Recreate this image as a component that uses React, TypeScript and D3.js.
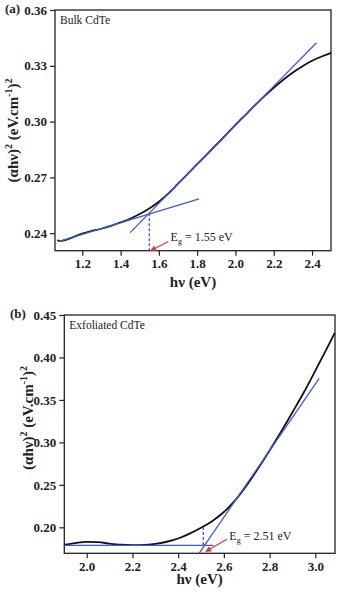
import React, { useEffect, useRef } from 'react';
import * as d3 from 'd3';

// panel (a) - bulk CdTe
const bulkX = [1.07, 1.08, 1.1, 1.15, 1.2, 1.25, 1.3, 1.35, 1.4, 1.45, 1.5, 1.55, 1.6, 1.65, 1.7, 1.75, 1.8, 1.85, 1.9, 1.95, 2.0, 2.05, 2.1, 2.15, 2.2, 2.25, 2.3, 2.35, 2.4, 2.45, 2.5];
const bulkY = [0.2363, 0.2358, 0.236, 0.2378, 0.2398, 0.2413, 0.2424, 0.244, 0.2458, 0.2478, 0.2503, 0.2533, 0.2569, 0.2614, 0.2666, 0.2718, 0.2771, 0.2823, 0.2876, 0.2929, 0.2982, 0.3034, 0.3086, 0.3136, 0.3182, 0.3225, 0.3264, 0.3298, 0.3327, 0.335, 0.337];
const bulkFitX = [[1.45, 2.423], [1.075, 1.81]];
const bulkFitY = [[0.2403, 0.3424], [0.2355, 0.2585]];
const bulkXTicks = [1.2, 1.4, 1.6, 1.8, 2.0, 2.2, 2.4];
const bulkYTicks = [0.24, 0.27, 0.3, 0.33, 0.36];

// panel (b) - exfoliated CdTe
const exfX = [1.9, 1.95, 2.0, 2.05, 2.1, 2.15, 2.2, 2.25, 2.3, 2.35, 2.4, 2.45, 2.5, 2.55, 2.6, 2.65, 2.7, 2.75, 2.8, 2.85, 2.9, 2.95, 3.0, 3.05, 3.085];
const exfY = [0.1795, 0.1815, 0.1829, 0.1825, 0.1808, 0.1795, 0.179, 0.1792, 0.1805, 0.183, 0.1868, 0.1925, 0.1995, 0.2075, 0.218, 0.232, 0.2495, 0.2695, 0.2905, 0.3125, 0.3355, 0.359, 0.3845, 0.4105, 0.429];
const exfFitX = [[2.4915, 3.017], [1.902, 2.555]];
const exfFitY = [[0.1694, 0.3755], [0.1788, 0.1788]];
const exfXTicks = [2.0, 2.2, 2.4, 2.6, 2.8, 3.0];
const exfYTicks = [0.2, 0.25, 0.3, 0.35, 0.4, 0.45];

const panels = [
  {
    tag: '(a)', title: 'Bulk CdTe', eg: '1.55',
    x: bulkX, y: bulkY, fitX: bulkFitX, fitY: bulkFitY, xTicks: bulkXTicks, yTicks: bulkYTicks,
    xDomain: [1.0575, 2.499], yDomain: [0.2306, 0.36],
    dash: [1.55, 0.2508, 0.2306], arrow: [1.649, 0.2355, 1.557, 0.2306], label: [1.661, 0.2356],
    box: { left: 55, right: 331, top: 10, bottom: 250.7 },
    yLabelX: 18, yLabelY: 130.4, xLabelDy: 36, tagX: 5,
  },
  {
    tag: '(b)', title: 'Exfoliated CdTe', eg: '2.51',
    x: exfX, y: exfY, fitX: exfFitX, fitY: exfFitY, xTicks: exfXTicks, yTicks: exfYTicks,
    xDomain: [1.902, 3.086], yDomain: [0.1694, 0.45],
    dash: [2.51, 0.2005, 0.1788], arrow: [2.613, 0.1859, 2.521, 0.1715], label: [2.624, 0.185],
    box: { left: 64.3, right: 335, top: 315, bottom: 553.3 },
    yLabelX: 33, yLabelY: 418, xLabelDy: 31, tagX: 10,
  },
];

const BLUE = '#3b5be0';
const FONT = '"Liberation Serif", "Times New Roman", serif';

function App() {
  const ref = useRef(null);

  useEffect(() => {
    const svg = d3.select(ref.current);
    svg.selectAll('*').remove();

    svg.append('defs').append('marker')
      .attr('id', 'arr')
      .attr('viewBox', '0 0 10 10')
      .attr('refX', 9).attr('refY', 5)
      .attr('markerWidth', 5).attr('markerHeight', 5)
      .attr('orient', 'auto')
      .append('path').attr('d', 'M0,0L10,5L0,10z').attr('fill', '#e0304a');

    panels.forEach((p) => {
      const b = p.box;
      const x = d3.scaleLinear().domain(p.xDomain).range([b.left, b.right]);
      const y = d3.scaleLinear().domain(p.yDomain).range([b.bottom, b.top]);
      const g = svg.append('g').style('font-family', FONT);

      // frame
      g.append('rect')
        .attr('x', b.left).attr('y', b.top)
        .attr('width', b.right - b.left).attr('height', b.bottom - b.top)
        .attr('fill', 'none').attr('stroke', '#222').attr('stroke-width', 1.3);

      // axes
      const xa = g.append('g').attr('transform', `translate(0,${b.bottom})`)
        .call(d3.axisBottom(x).tickValues(p.xTicks).tickFormat(d3.format('.1f')).tickSize(5).tickPadding(3));
      const ya = g.append('g').attr('transform', `translate(${b.left},0)`)
        .call(d3.axisLeft(y).tickValues(p.yTicks).tickFormat(d3.format('.2f')).tickSize(5).tickPadding(3));
      [xa, ya].forEach((a) => {
        a.select('.domain').remove();
        a.selectAll('line').attr('stroke', '#222').attr('stroke-width', 1.2);
        a.selectAll('text').attr('fill', '#222').style('font-family', FONT)
          .style('font-size', '13px').style('font-weight', 'bold');
      });

      // data curve
      const pts = p.x.map((v, i) => [v, p.y[i]]);
      const line = d3.line().x((d) => x(d[0])).y((d) => y(d[1])).curve(d3.curveMonotoneX);
      g.append('path').datum(pts).attr('d', line)
        .attr('fill', 'none').attr('stroke', '#111').attr('stroke-width', 1.8);

      // linear fits
      p.fitX.forEach((fx, i) => {
        g.append('line')
          .attr('x1', x(fx[0])).attr('y1', y(p.fitY[i][0]))
          .attr('x2', x(fx[1])).attr('y2', y(p.fitY[i][1]))
          .attr('stroke', BLUE).attr('stroke-width', 1.3);
      });

      // band gap marker
      g.append('line')
        .attr('x1', x(p.dash[0])).attr('x2', x(p.dash[0]))
        .attr('y1', y(p.dash[1])).attr('y2', y(p.dash[2]))
        .attr('stroke', BLUE).attr('stroke-width', 1.3).attr('stroke-dasharray', '3,2');

      g.append('line')
        .attr('x1', x(p.arrow[0])).attr('y1', y(p.arrow[1]))
        .attr('x2', x(p.arrow[2])).attr('y2', y(p.arrow[3]))
        .attr('stroke', '#e0304a').attr('stroke-width', 1.2).attr('marker-end', 'url(#arr)');

      const t = g.append('text').attr('x', x(p.label[0])).attr('y', y(p.label[1]))
        .style('font-size', '12px').attr('fill', '#222');
      t.append('tspan').text('E');
      t.append('tspan').attr('dy', 3).style('font-size', '8px').text('g');
      t.append('tspan').attr('dy', -3).text(` = ${p.eg} eV`);

      // titles
      g.append('text').attr('x', b.left + 5).attr('y', b.top + 14)
        .style('font-size', '11.5px').attr('fill', '#222').text(p.title);
      g.append('text').attr('x', p.tagX).attr('y', b.top + 3)
        .style('font-size', '13px').style('font-weight', 'bold').attr('fill', '#222')
        .text(p.tag);

      // axis labels
      g.append('text')
        .attr('x', (b.left + b.right) / 2).attr('y', b.bottom + p.xLabelDy)
        .attr('text-anchor', 'middle').style('font-size', '15px').style('font-weight', 'bold')
        .attr('fill', '#222').text('hν (eV)');

      const yl = g.append('text')
        .attr('transform', `translate(${p.yLabelX},${p.yLabelY}) rotate(-90)`)
        .attr('text-anchor', 'middle').style('font-size', '15px').style('font-weight', 'bold')
        .attr('fill', '#222');
      yl.append('tspan').text('(αhν)');
      yl.append('tspan').attr('dy', -6).style('font-size', '10px').text('2');
      yl.append('tspan').attr('dy', 6).text(' (eV.cm');
      yl.append('tspan').attr('dy', -6).style('font-size', '10px').text('-1');
      yl.append('tspan').attr('dy', 6).text(')');
      yl.append('tspan').attr('dy', -6).style('font-size', '10px').text('2');
    });
  }, []);

  return (
    <div style={{ position: 'absolute', left: 0, top: 0 }}>
      <svg ref={ref} width={338} height={593} style={{ display: 'block', background: '#fff' }} />
    </div>
  );
}

export default App;
